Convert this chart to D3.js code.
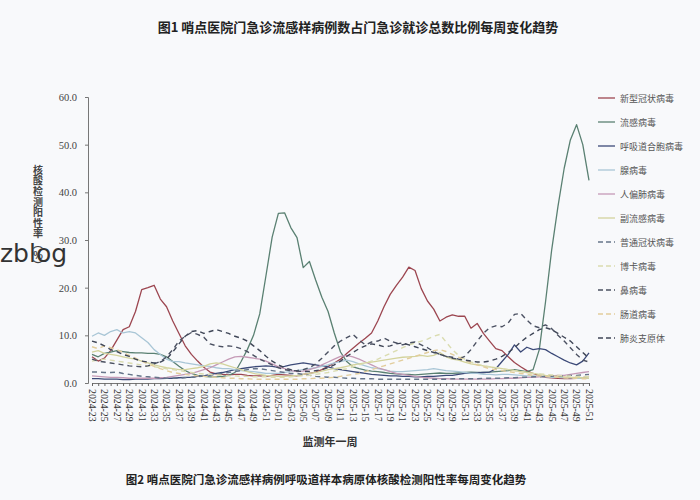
<!DOCTYPE html>
<html><head><meta charset="utf-8">
<script src="https://cdn.jsdelivr.net/npm/d3@7"></script>
<style>
html,body{margin:0;padding:0;background:#f8f9fb;}
svg{display:block;}
</style></head>
<body>
<svg id="c" width="700" height="500"></svg>
<script>
// ---- categories (ISO week labels) ----
const weeks = [];
for (let w = 23; w <= 52; w++) weeks.push("2024-" + String(w).padStart(2, "0"));
for (let w = 1; w <= 51; w++) weeks.push("2025-" + String(w).padStart(2, "0"));
const tickWeeks = weeks.filter((d, i) => i % 2 === 0);
const yTicks = [0, 10, 20, 30, 40, 50, 60];

// ---- series names ----
const seriesNames = ["新型冠状病毒","流感病毒","呼吸道合胞病毒","腺病毒","人偏肺病毒","副流感病毒","普通冠状病毒","博卡病毒","鼻病毒","肠道病毒","肺炎支原体"];

// ---- series values (%, one per week) ----
const covid = [5.5,4.6,5.2,6.8,9.0,11.2,11.8,15.0,19.6,20.0, 20.5,17.6,16.0,13.0,10.4,7.8,6.0,4.6,3.3,2.3, 1.9,1.8,1.7,1.8,1.8,1.6,1.5,1.5,1.4,1.6, 1.8,1.7,1.6,1.5,1.8,2.0,2.3,2.8,3.5,4.2, 5.0,6.2,7.3,8.4,9.4,10.5,13.0,16.0,18.6,20.5, 22.2,24.3,23.6,19.8,17.2,15.5,13.0,13.8,14.3,14.0, 14.0,11.5,12.5,10.4,8.8,7.2,6.8,5.5,4.3,3.4, 2.6,2.0,1.5,1.2,1.1,1.0,0.9,0.9,1.0,1.1,1.4];
const flu = [6.0,5.5,6.2,6.5,6.8,6.6,6.4,6.3,6.3,6.2, 6.2,6.0,5.5,4.5,3.5,2.6,2.0,1.6,1.4,1.3, 1.3,1.4,1.6,2.2,4.5,7.0,10.0,14.5,22.5,30.6, 35.6,35.7,32.6,30.5,24.2,25.5,21.6,18.0,15.0,10.5, 6.5,4.5,3.4,3.0,2.7,2.5,2.4,2.2,2.0,1.9, 1.8,1.8,1.7,1.8,1.9,2.0,2.1,2.0,2.0,2.1, 2.2,2.3,2.2,2.2,2.3,2.4,2.5,2.6,2.8,2.6, 2.4,2.8,7.0,17.0,28.0,37.0,45.0,51.0,54.2,50.0,42.5];
const rsv = [0.9,0.9,0.8,0.8,0.8,0.7,0.7,0.8,0.8,0.8, 0.9,0.9,1.0,1.0,1.1,1.2,1.2,1.4,1.5,1.8, 2.0,2.2,2.5,2.8,3.0,3.2,3.4,3.5,3.6,3.5, 3.3,3.5,3.8,4.0,4.2,4.0,3.8,3.6,3.4,3.0, 2.8,2.6,2.4,2.2,2.0,1.8,1.7,1.6,1.5,1.5, 1.4,1.4,1.3,1.3,1.4,1.4,1.5,1.6,1.6,1.8, 2.0,2.0,2.1,2.2,2.3,3.0,4.5,6.0,8.0,6.5, 7.5,7.0,7.2,7.0,6.2,5.5,4.8,4.2,3.8,4.6,6.3];
const adeno = [9.8,10.5,10.0,10.8,11.2,10.5,10.8,10.5,9.5,8.5, 7.0,6.0,5.0,4.5,4.5,4.2,4.0,3.8,3.6,3.5, 3.2,3.0,3.0,2.8,2.6,2.5,2.4,2.2,2.0,2.0, 2.0,2.2,2.5,2.6,2.8,3.0,3.2,3.5,3.8,4.2, 4.5,4.8,4.5,4.0,3.6,3.2,3.0,2.8,2.5,2.4, 2.4,2.5,2.6,2.7,2.8,3.0,2.8,2.6,2.5,2.4, 2.2,2.0,2.0,1.8,1.8,1.7,1.8,1.8,1.7,1.6, 1.5,1.5,1.4,1.3,1.2,1.2,1.1,1.1,1.0,1.0,1.0];
const hmpv = [1.5,1.4,1.3,1.2,1.2,1.1,1.0,1.0,1.0,1.0, 1.0,1.1,1.2,1.4,1.6,1.8,2.0,2.4,2.8,3.2, 3.8,4.4,5.0,5.5,5.6,5.4,5.2,5.0,4.6,4.0, 3.4,3.0,2.6,2.4,2.5,2.8,3.2,3.8,4.4,5.0, 5.6,5.8,5.5,5.0,4.4,3.8,3.2,2.8,2.4,2.0, 1.8,1.6,1.4,1.2,1.1,1.0,0.9,0.9,0.8,0.8, 0.8,0.8,0.8,0.8,0.8,0.9,0.9,1.0,1.0,1.1, 1.2,1.2,1.3,1.4,1.5,1.6,1.6,1.8,2.0,2.2,2.4];
const piv = [6.5,6.8,6.2,6.0,5.8,5.5,5.2,5.0,4.6,4.2, 3.8,3.5,3.2,3.0,2.8,2.8,3.0,3.2,3.5,4.0, 4.2,4.0,3.6,3.2,2.8,2.4,2.0,1.8,1.6,1.5, 1.4,1.4,1.5,1.6,1.8,2.0,2.2,2.5,2.8,3.0, 3.2,3.5,3.8,4.0,4.2,4.4,4.6,4.8,5.0,5.2, 5.4,5.5,5.6,5.8,5.6,5.8,6.4,5.5,5.0,4.8, 4.4,4.0,3.8,3.6,3.4,3.2,3.0,2.8,2.6,2.4, 2.2,2.0,1.8,1.6,1.5,1.4,1.3,1.2,1.2,1.1,1.0];
const hcov = [2.3,2.3,2.2,2.2,2.3,2.0,1.8,1.6,1.4,1.3, 1.2,1.1,1.0,1.0,1.0,1.1,1.2,1.3,1.5,1.6, 1.8,2.0,2.2,2.4,2.6,2.8,3.0,3.0,2.8,2.6, 2.4,2.2,2.0,2.0,1.8,1.6,1.4,1.3,1.2,1.2, 1.1,1.0,1.0,0.9,0.9,0.9,0.8,0.8,0.8,0.8, 0.8,0.8,0.8,0.8,0.8,0.8,0.8,0.8,0.9,0.9, 0.9,0.9,0.9,1.0,1.0,1.0,1.0,1.1,1.1,1.2, 1.2,1.3,1.3,1.4,1.4,1.5,1.5,1.6,1.6,1.7,1.8];
const boca = [4.6,4.8,5.0,4.8,4.6,4.4,4.2,4.0,3.8,3.6, 3.4,3.2,3.0,2.8,2.6,2.4,2.2,2.0,1.9,1.8, 1.7,1.6,1.5,1.5,1.4,1.4,1.3,1.3,1.3,1.2, 1.2,1.2,1.3,1.4,1.5,1.6,1.8,2.0,2.2,2.5, 2.8,3.0,3.4,3.8,4.2,4.6,5.0,5.6,6.2,6.8, 7.4,8.0,8.4,8.8,9.2,9.8,10.2,8.6,7.0,5.8, 5.0,4.4,4.0,3.6,3.4,3.2,3.0,2.8,2.6,2.4, 2.2,2.0,1.9,1.8,1.7,1.6,1.5,1.5,1.4,1.4,1.3];
const rhino = [5.0,4.6,4.4,4.2,4.0,3.8,3.6,3.5,3.4,3.6, 4.0,4.5,5.5,7.0,8.8,9.8,10.6,10.2,9.6,8.2, 7.8,7.6,7.8,7.6,7.2,6.6,5.8,5.0,4.4,3.8, 3.2,2.8,2.6,2.6,2.8,3.2,4.0,5.2,6.5,7.8, 8.8,9.5,10.2,9.0,8.0,8.6,8.8,9.4,8.8,8.4, 8.0,8.4,8.6,8.0,7.4,6.6,6.0,5.6,5.2,5.0, 5.6,7.0,8.8,10.4,11.6,12.0,11.8,12.6,14.4,14.6, 13.2,12.0,11.6,12.2,11.4,10.0,8.8,7.4,6.0,4.8,4.4];
const entero = [7.6,7.2,7.8,7.4,7.0,6.4,5.8,5.2,4.6,4.0, 3.5,3.0,2.6,2.2,2.0,1.8,1.6,1.5,1.4,1.3, 1.2,1.1,1.0,1.0,0.9,0.9,0.8,0.8,0.8,0.8, 0.8,0.8,0.8,0.8,0.9,0.9,1.0,1.0,1.1,1.2, 1.4,1.6,1.8,2.0,2.4,2.8,3.2,3.6,4.0,4.4, 4.8,5.2,5.6,6.0,6.4,6.8,7.0,6.6,6.0,5.4, 4.8,4.2,3.8,3.4,3.0,2.8,2.6,2.4,2.2,2.0, 1.8,1.6,1.5,1.4,1.3,1.2,1.1,1.0,1.0,0.9,0.9];
const mp = [8.8,8.4,7.8,7.0,6.6,6.0,5.6,5.0,4.6,4.4, 4.2,4.4,5.0,6.5,8.2,9.8,10.8,11.0,10.4,10.8, 11.2,10.8,10.4,9.8,9.4,8.8,7.8,6.8,5.6,4.6, 3.8,3.2,2.8,2.5,2.4,2.4,2.6,2.8,3.2,3.8, 4.6,5.6,6.4,7.2,7.8,8.2,8.0,7.6,7.8,8.2, 8.4,8.0,7.6,7.2,6.8,6.4,6.0,5.6,5.4,5.0, 4.8,4.6,4.4,4.4,4.6,5.0,5.6,6.4,7.4,8.6, 9.6,10.4,11.2,11.6,11.2,10.4,9.6,8.8,7.6,6.4,5.2];

const seriesValues = [covid, flu, rsv, adeno, hmpv, piv, hcov, boca, rhino, entero, mp];
const seriesColors = ["#9c4650","#5a8072","#3c4a78","#a9c6d6","#c59ab6","#d3d39c","#66758a","#dadcb0","#4b5162","#e2cd9c","#3f4657"];
const seriesDashed = [false,false,false,false,false,false,true,true,true,true,true];

const svg = d3.select("#c");
svg.append("rect").attr("width",700).attr("height",500).attr("fill","#f8f9fb");

const x = d3.scalePoint().domain(weeks).range([92, 589]);
const y = d3.scaleLinear().domain([0, 60]).range([383, 97]);

// titles
svg.append("text").attr("x", 358).attr("y", 32).attr("text-anchor","middle")
  .attr("font-family","'Noto Sans CJK SC', sans-serif").attr("font-weight","bold")
  .attr("font-size", 13).attr("fill","#222")
  .text("图1 哨点医院门急诊流感样病例数占门急诊就诊总数比例每周变化趋势");
svg.append("text").attr("x", 326).attr("y", 484).attr("text-anchor","middle")
  .attr("font-family","'Noto Sans CJK SC', sans-serif").attr("font-weight","bold")
  .attr("font-size", 11.5).attr("fill","#222")
  .text("图2 哨点医院门急诊流感样病例呼吸道样本病原体核酸检测阳性率每周变化趋势");

// y axis
const yAxis = svg.append("g").attr("transform","translate(88,0)")
  .call(d3.axisLeft(y).tickValues(yTicks).tickFormat(d3.format(".1f")).tickSize(3).tickPadding(8));
yAxis.select(".domain").attr("stroke","#777");
yAxis.selectAll(".tick line").attr("stroke","#777");
yAxis.selectAll("text").attr("font-family","'Liberation Serif', serif").attr("font-size",10.5).attr("fill","#444");

// x axis
const xAxis = svg.append("g").attr("transform","translate(0,383)")
  .call(d3.axisBottom(x).tickValues(weeks).tickSize(3).tickFormat(""));
xAxis.select(".domain").attr("stroke","#777");
xAxis.selectAll(".tick line").attr("stroke","#666");
const xl = svg.append("g");
xl.selectAll("text").data(tickWeeks).join("text")
  .attr("transform", d => `translate(${x(d)-3.2},389) rotate(90)`)
  .attr("font-family","'Liberation Serif', serif").attr("font-size",9.8).attr("fill","#333")
  .text(d => d);

// axis titles
svg.append("text").attr("x", 38).attr("y", 165)
  .attr("style","writing-mode: vertical-rl; text-orientation: upright;")
  .attr("font-family","'Noto Sans CJK SC', sans-serif").attr("font-weight","bold")
  .attr("font-size", 10).attr("letter-spacing", 0.6).attr("fill","#444")
  .text("核酸检测阳性率（%）");
svg.append("text").attr("x", 330).attr("y", 446).attr("text-anchor","middle")
  .attr("font-family","'Noto Sans CJK SC', sans-serif").attr("font-weight","bold")
  .attr("font-size", 11).attr("fill","#333").text("监测年一周");

// lines
const line = d3.line().x((d,i) => x(weeks[i])).y(d => y(d)).curve(d3.curveLinear);
const lg = svg.append("g");
seriesValues.forEach((vals, k) => {
  lg.append("path").attr("d", line(vals)).attr("fill","none")
    .attr("stroke", seriesColors[k]).attr("stroke-width", seriesDashed[k] ? 1.4 : 1.3)
    .attr("stroke-dasharray", seriesDashed[k] ? "5,4" : null)
    .attr("stroke-linejoin","round");
});

// legend
const leg = svg.append("g");
seriesNames.forEach((n, k) => {
  const yy = 98 + k*24;
  leg.append("line").attr("x1",598).attr("x2",615).attr("y1",yy).attr("y2",yy)
    .attr("stroke", seriesColors[k]).attr("stroke-width",1.3)
    .attr("stroke-dasharray", seriesDashed[k] ? "5,3" : null);
  leg.append("text").attr("x",620).attr("y",yy+3.5)
    .attr("font-family","'Noto Sans CJK SC', sans-serif").attr("font-size",9)
    .attr("fill","#555").text(n);
});

// watermark text
svg.append("text").attr("x", 0).attr("y", 262)
  .attr("font-family","'DejaVu Sans', sans-serif").attr("font-size", 25)
  .attr("fill","#333").text("zblog");
</script>
</body></html>
